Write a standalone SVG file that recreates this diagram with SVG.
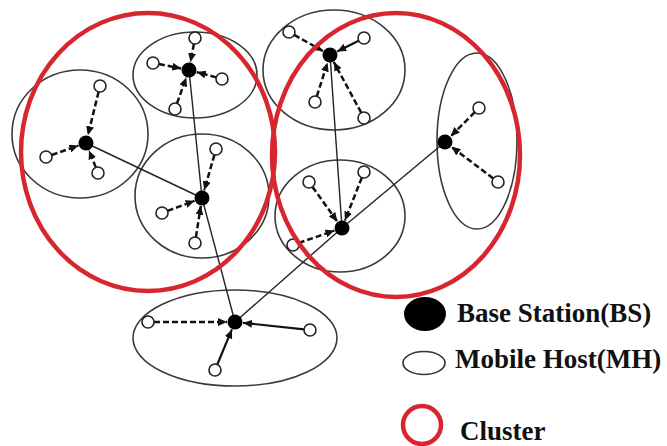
<svg xmlns="http://www.w3.org/2000/svg" width="667" height="446" viewBox="0 0 667 446">
<defs>
<marker id="arr" markerUnits="userSpaceOnUse" markerWidth="9" markerHeight="8" refX="9" refY="4" orient="auto">
<path d="M0,0 L9,4 L0,8 z" fill="#111"/>
</marker>
<style>
.cell{fill:none;stroke:#3a3a3a;stroke-width:1.6}
.cluster{fill:none;stroke:#d7262e;stroke-width:4.5}
.bs{fill:#000}
.mh{fill:#fff;stroke:#222;stroke-width:1.6}
.link{stroke:#222;stroke-width:1.4;fill:none}
.dash{stroke:#111;stroke-width:2.5;stroke-dasharray:6,3;fill:none;marker-end:url(#arr)}
.sol{stroke:#111;stroke-width:2.2;fill:none;marker-end:url(#arr)}
.lbl{font-family:"Liberation Serif","Times New Roman",serif;font-weight:bold;font-size:27px;fill:#111}
</style>
</defs>
<rect width="667" height="446" fill="#fff"/>

<g id="cells">
<ellipse class="cell" cx="195" cy="75" rx="62" ry="43"/>
<ellipse class="cell" cx="80" cy="134" rx="68" ry="64"/>
<ellipse class="cell" cx="202" cy="196" rx="67" ry="62"/>
<ellipse class="cell" cx="334" cy="70" rx="71" ry="60"/>
<ellipse class="cell" cx="477" cy="141" rx="40" ry="88"/>
<ellipse class="cell" cx="340" cy="216" rx="65" ry="56"/>
<ellipse class="cell" cx="235" cy="338" rx="102" ry="48"/>
</g>

<g id="connectors">
<line class="link" x1="86" y1="143" x2="202" y2="198"/>
<line class="link" x1="189" y1="70" x2="202" y2="198"/>
<line class="link" x1="202" y1="198" x2="235" y2="322"/>
<line class="link" x1="330" y1="55" x2="342" y2="228"/>
<line class="link" x1="445" y1="142" x2="342" y2="228"/>
<line class="link" x1="342" y1="228" x2="235" y2="322"/>

<line class="dash" x1="193.9" y1="43.9" x2="190.5" y2="62.1"/>
<line class="dash" x1="158.9" y1="64.1" x2="181.2" y2="68.5"/>
<line class="dash" x1="216.2" y1="77.4" x2="196.7" y2="72.1"/>
<line class="dash" x1="177" y1="103.3" x2="186.3" y2="77.5"/>

<line class="dash" x1="98.6" y1="91.8" x2="87.9" y2="135.2"/>
<line class="dash" x1="51.7" y1="155" x2="78.5" y2="145.6"/>
<line class="dash" x1="95.8" y1="167.4" x2="89" y2="150.4"/>

<line class="dash" x1="214.4" y1="154.8" x2="204.2" y2="190.3"/>
<line class="dash" x1="167.6" y1="210.9" x2="194.5" y2="200.8"/>
<line class="dash" x1="195.9" y1="237.1" x2="200.8" y2="205.9"/>

<line class="dash" x1="294.2" y1="34.9" x2="323" y2="51.1"/>
<line class="sol" x1="358.6" y1="40.7" x2="337.2" y2="51.4"/>
<line class="dash" x1="316.8" y1="96.3" x2="327.6" y2="62.6"/>
<line class="dash" x1="361.2" y1="112.7" x2="333.8" y2="62"/>

<line class="dash" x1="474.8" y1="112.2" x2="450.7" y2="136.3"/>
<line class="dash" x1="493.2" y1="178.4" x2="451.4" y2="146.8"/>

<line class="dash" x1="312.5" y1="186.9" x2="337.3" y2="221.5"/>
<line class="dash" x1="361.8" y1="177.6" x2="344.9" y2="220.6"/>
<line class="dash" x1="298.7" y1="243" x2="334.4" y2="230.6"/>

<line class="dash" x1="154" y1="322" x2="227" y2="322"/>
<line class="sol" x1="304" y1="329.4" x2="243" y2="322.8"/>
<line class="sol" x1="217.3" y1="364.5" x2="231.9" y2="329.4"/>
</g>

<g id="bs-A"><circle class="bs" cx="189" cy="70" r="7.5"/></g>
<g id="bs-B"><circle class="bs" cx="86" cy="143" r="7.5"/></g>
<g id="bs-C"><circle class="bs" cx="202" cy="198" r="7.5"/></g>
<g id="bs-D"><circle class="bs" cx="330" cy="55" r="7.5"/></g>
<g id="bs-E"><circle class="bs" cx="445" cy="142" r="7.5"/></g>
<g id="bs-F"><circle class="bs" cx="342" cy="228" r="7.5"/></g>
<g id="bs-G"><circle class="bs" cx="235" cy="322" r="7.5"/></g>

<g id="mh-A">
<circle class="mh" cx="195" cy="38" r="6"/>
<circle class="mh" cx="153" cy="63" r="6"/>
<circle class="mh" cx="222" cy="79" r="6"/>
<circle class="mh" cx="175" cy="109" r="6"/>
</g>
<g id="mh-B">
<circle class="mh" cx="100" cy="86" r="6"/>
<circle class="mh" cx="46" cy="157" r="6"/>
<circle class="mh" cx="98" cy="173" r="6"/>
</g>
<g id="mh-C">
<circle class="mh" cx="216" cy="149" r="6"/>
<circle class="mh" cx="162" cy="213" r="6"/>
<circle class="mh" cx="195" cy="243" r="6"/>
</g>
<g id="mh-D">
<circle class="mh" cx="289" cy="32" r="6"/>
<circle class="mh" cx="364" cy="38" r="6"/>
<circle class="mh" cx="315" cy="102" r="6"/>
<circle class="mh" cx="364" cy="118" r="6"/>
</g>
<g id="mh-E">
<circle class="mh" cx="479" cy="108" r="6"/>
<circle class="mh" cx="498" cy="182" r="6"/>
</g>
<g id="mh-F">
<circle class="mh" cx="309" cy="182" r="6"/>
<circle class="mh" cx="364" cy="172" r="6"/>
<circle class="mh" cx="293" cy="245" r="6"/>
</g>
<g id="mh-G">
<circle class="mh" cx="148" cy="322" r="6"/>
<circle class="mh" cx="310" cy="330" r="6"/>
<circle class="mh" cx="215" cy="370" r="6"/>
</g>

<g id="cluster-1"><ellipse class="cluster" cx="148" cy="152" rx="127" ry="139"/></g>
<g id="cluster-2"><ellipse class="cluster" cx="396" cy="155" rx="124" ry="142"/></g>

<g id="legend">
<ellipse cx="425" cy="314" rx="21" ry="17" fill="#000"/>
<text class="lbl" x="457" y="322">Base Station(BS)</text>
<ellipse cx="424" cy="363" rx="21" ry="11.5" fill="#fff" stroke="#333" stroke-width="1.6"/>
<text class="lbl" x="455" y="368">Mobile Host(MH)</text>
<circle cx="422" cy="425" r="19" fill="none" stroke="#d7262e" stroke-width="4.5"/>
<text class="lbl" x="460" y="440">Cluster</text>
</g>
</svg>
